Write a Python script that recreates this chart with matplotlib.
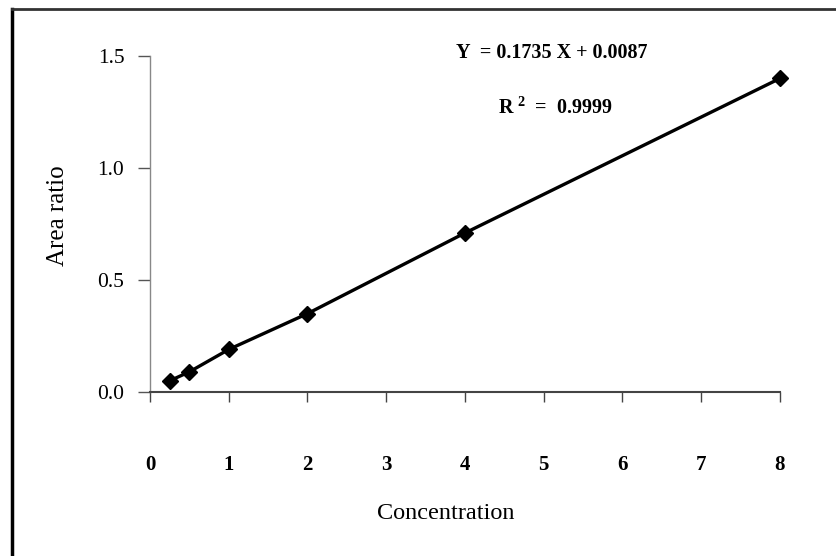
import matplotlib
matplotlib.use("Agg")
import matplotlib.pyplot as plt
from matplotlib.lines import Line2D

concentration = [0.25, 0.5, 1, 2, 4, 8]
area_ratio = [0.05, 0.09, 0.19, 0.35, 0.71, 1.40]
x_ticks = [0, 1, 2, 3, 4, 5, 6, 7, 8]
y_ticks = [0.0, 0.5, 1.0, 1.5]
y_tick_labels = ["0.0", "0.5", "1.0", "1.5"]
equation = "Y  = 0.1735 X + 0.0087"
r2_label = "R$^{\\ 2}$  =  0.9999"

plt.rcParams['font.family'] = ['Liberation Serif', 'DejaVu Serif']
plt.rcParams['mathtext.fontset'] = 'custom'
plt.rcParams['mathtext.rm'] = 'Liberation Serif:bold'

fig = plt.figure(figsize=(8.37, 5.56), dpi=100)
ax = fig.add_axes([150/837, 1-392/556, 630/837, 336/556])

ax.plot(concentration, area_ratio, color='black', lw=2.4, marker='D', ms=8,
        mfc='black', mec='black', zorder=3, clip_on=False)

ax.set_xlim(0, 8)
ax.set_ylim(0, 1.5)
ax.set_xticks(x_ticks)
ax.set_xticklabels([str(t) for t in x_ticks], fontsize=15, fontweight='bold')
ax.set_yticks(y_ticks)
ax.set_yticklabels(y_tick_labels, fontsize=15.5)
ax.tick_params(axis='x', direction='out', length=7, width=1, pad=38, color='#444444')
ax.tick_params(axis='y', direction='out', length=8.5, width=1, pad=10, color='#555555')

for s in ['top', 'right']:
    ax.spines[s].set_visible(False)
ax.spines['bottom'].set_color('#444444')
ax.spines['bottom'].set_linewidth(1.5)
ax.spines['left'].set_color('#888888')
ax.spines['left'].set_linewidth(1.0)
ax.spines['left'].set_linestyle((0, (2, 1)))

ax.set_xlabel("Concentration", fontsize=17.5, va='center')
ax.xaxis.set_label_coords(0.47, -0.363)
ax.set_ylabel("Area ratio", fontsize=18, va='center')
ax.yaxis.set_label_coords(-0.146, 0.524)

ax.text(0.638, 1.009, equation, transform=ax.transAxes, ha='center', va='center',
        fontsize=14.5, fontweight='bold')
ax.text(0.644, 0.845, r2_label, transform=ax.transAxes, ha='center', va='center',
        fontsize=14.5, fontweight='bold')

# figure frame (left and top edges)
fig.add_artist(Line2D([12/837, 12/837], [0, 1-9/556], transform=fig.transFigure,
                      color='black', lw=2.5))
fig.add_artist(Line2D([12/837, 1], [1-9/556, 1-9/556], transform=fig.transFigure,
                      color='#333333', lw=2.0))

fig.savefig("out.png", dpi=100)
